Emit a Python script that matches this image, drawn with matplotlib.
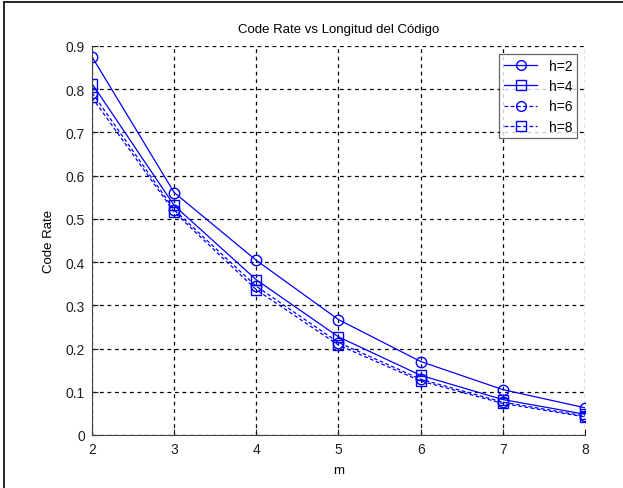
import numpy as np
import matplotlib.pyplot as plt
from matplotlib.lines import Line2D

plt.rcParams['font.family'] = ['Liberation Sans', 'DejaVu Sans']

# Datos
m = [2, 3, 4, 5, 6, 7, 8]
rate_h2 = [0.875, 0.561, 0.404, 0.267, 0.170, 0.105, 0.063]
rate_h4 = [0.813, 0.531, 0.359, 0.227, 0.138, 0.082, 0.048]
rate_h6 = [0.792, 0.521, 0.344, 0.214, 0.129, 0.076, 0.044]
rate_h8 = [0.781, 0.516, 0.336, 0.208, 0.125, 0.073, 0.042]
labels = ['h=2', 'h=4', 'h=6', 'h=8']

blue = '#0000ff'
fig = plt.figure(figsize=(6.23, 4.89), dpi=100)
ax = fig.add_axes([92/623, 1-436/489, (585-92)/623, (436-47)/489])

series = [rate_h2, rate_h4, rate_h6, rate_h8]
styles = [('o', '-'), ('s', '-'), ('o', '--'), ('s', '--')]
for ys, (mk, ls), lab in zip(series, styles, labels):
    ax.plot(m, ys, color=blue, linestyle=ls, marker=mk, markersize=7.5,
            markerfacecolor='none', markeredgecolor=blue, linewidth=0.9,
            label=lab, dashes=(3, 2) if ls == '--' else (None, None))

ax.set_xlim(2, 8)
ax.set_ylim(0, 0.9)
ax.set_xticks(m)
ax.set_yticks(np.arange(0, 0.91, 0.1))
ax.set_yticklabels(['0', '0.1', '0.2', '0.3', '0.4', '0.5', '0.6', '0.7', '0.8', '0.9'])
ax.grid(True, color='black', linestyle=(0, (3, 3)), linewidth=0.9)
ax.spines['top'].set_visible(False)
ax.spines['right'].set_visible(False)
ax.spines['left'].set_color('#404040')
ax.spines['bottom'].set_color('#404040')
ax.tick_params(direction='in', length=4, labelsize=10, colors='#202020', pad=5)

ax.set_title('Code Rate vs Longitud del Código', fontsize=9.5, pad=10)
ax.set_xlabel('m', fontsize=9.5, labelpad=6)
ax.set_ylabel('Code Rate', fontsize=9.5, labelpad=8)

leg = ax.legend(loc='upper right', bbox_to_anchor=(577/623, 1-55/489),
                bbox_transform=fig.transFigure, fontsize=10, frameon=True,
                fancybox=False, edgecolor='#404040', handlelength=2.4,
                borderpad=0.35, labelspacing=0.45, handletextpad=0.8,
                borderaxespad=0)
leg.get_frame().set_linewidth(0.9)
for h in leg.legend_handles:
    h.set_markersize(7)

# marco de la figura (arriba e izquierda)
fig.add_artist(Line2D([4/623, 4/623], [0, 1-3/489], color='black', linewidth=1.2,
                      transform=fig.transFigure))
fig.add_artist(Line2D([4/623, 1], [1-3/489, 1-3/489], color='black', linewidth=1.2,
                      transform=fig.transFigure))

fig.savefig('out.png', dpi=100, facecolor='white')
